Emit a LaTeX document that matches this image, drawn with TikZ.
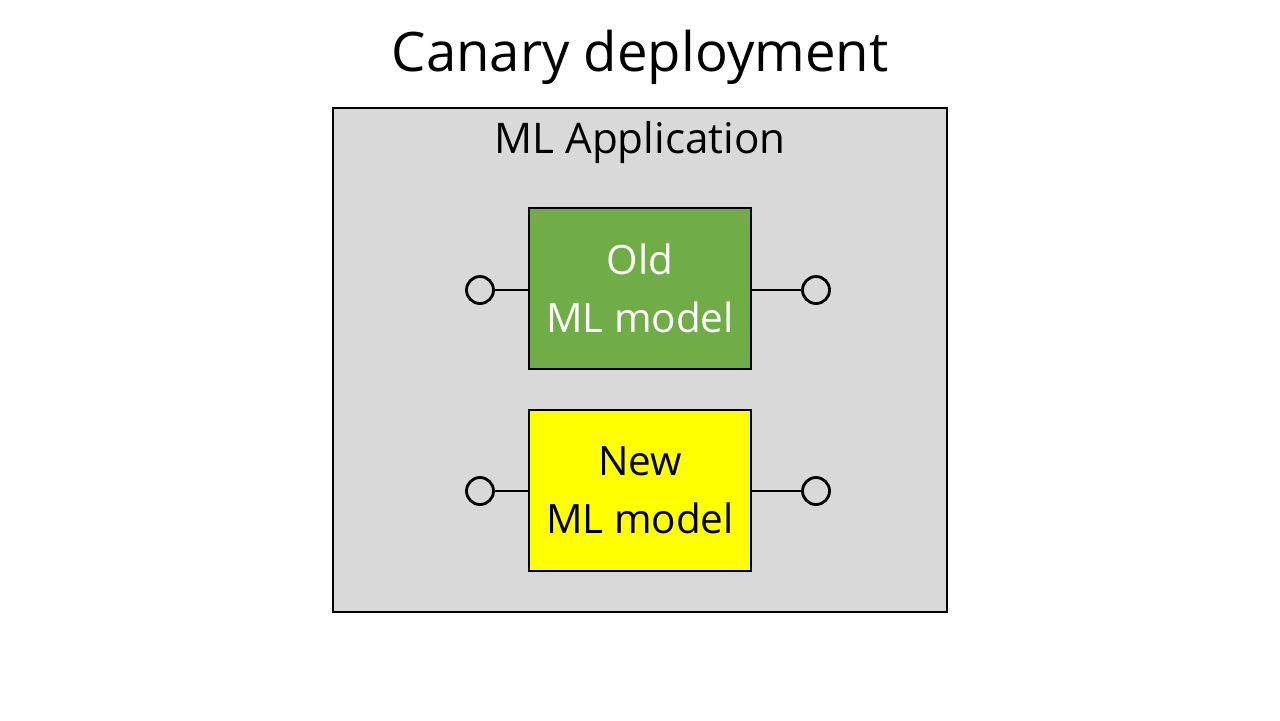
\documentclass[tikz,border=0pt]{standalone}
\usepackage{fontspec}
\setmainfont{Open Sans}
\usetikzlibrary{positioning}
\definecolor{appgray}{HTML}{D9D9D9}
\definecolor{oldgreen}{HTML}{70AD47}
\definecolor{newyellow}{HTML}{FFFF00}
\tikzset{
	modelbox/.style={draw=black, line width=0.6pt, minimum width=2.22cm, minimum height=1.61cm, align=center, font=\fontsize{11.5}{16.5}\selectfont},
	port/.style={draw=black, line width=0.8pt, circle, minimum size=0.27cm, inner sep=0pt},
	wire/.style={line width=0.7pt},
}

\begin{document}
\begin{tikzpicture}[x=0.01cm, y=-0.01cm]
	%%%%% START %%%%%
	\useasboundingbox (0, 0) rectangle (1280, 720);
	
	\node[font=\fontsize{15.5}{20}\selectfont] (title) at (640, 57) {Canary deployment};
	
	\node[draw=black, fill=appgray, line width=0.6pt, minimum width=6.14cm, minimum height=5.04cm] (app) at (640, 360) {};
	\node[font=\fontsize{12}{14}\selectfont] (applabel) at (640, 143) {ML Application};
	
	\node[modelbox, fill=oldgreen, text=white] (old) at (640, 288.5) {Old\\ML model};
	\node[port] (oldin) at (480, 290) {};
	\node[port] (oldout) at (816, 290) {};
	\draw[wire] (oldin.east) -- (oldin.east -| old.west);
	\draw[wire] (oldout.west -| old.east) -- (oldout.west);
	
	\node[modelbox, fill=newyellow] (new) at (640, 490.5) {New\\ML model};
	\node[port] (newin) at (480, 491) {};
	\node[port] (newout) at (816, 491) {};
	\draw[wire] (newin.east) -- (newin.east -| new.west);
	\draw[wire] (newout.west -| new.east) -- (newout.west);
	
	%%%%% END %%%%%
\end{tikzpicture}
\end{document}
